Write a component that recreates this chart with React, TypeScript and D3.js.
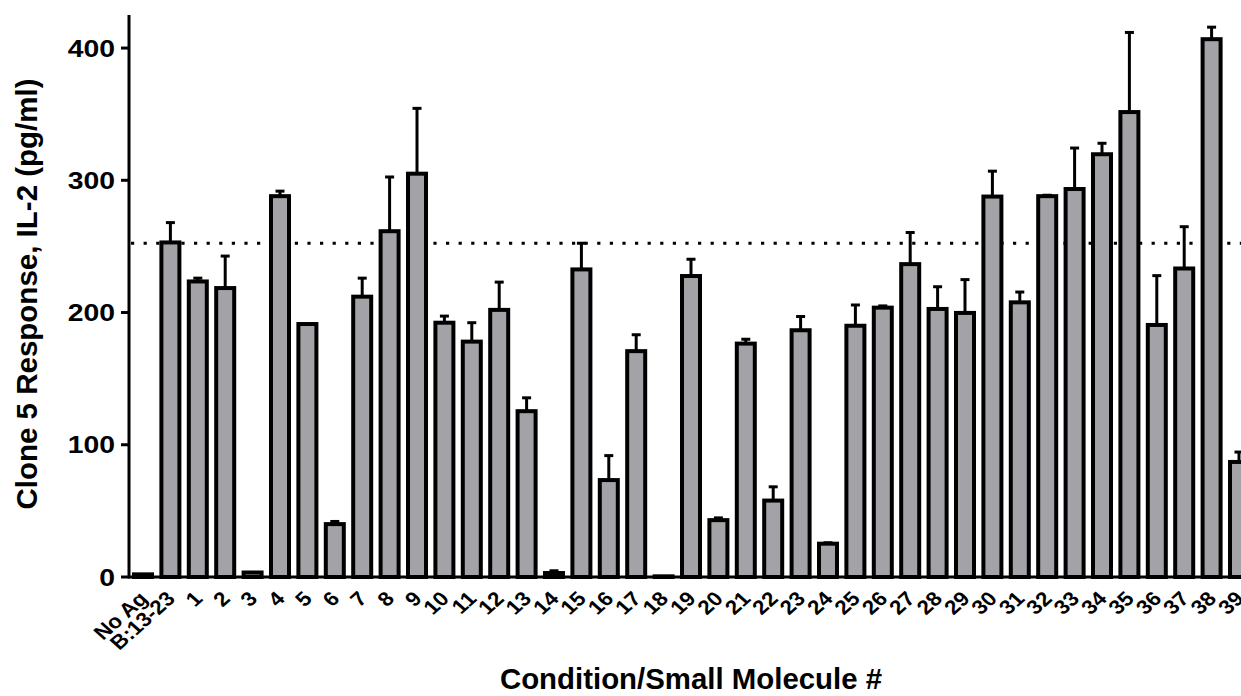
import React from "react";
import * as d3 from "d3";

const categories: string[] = [
  "No Ag", "B:13-23", "1", "2", "3", "4", "5", "6", "7", "8", "9", "10",
  "11", "12", "13", "14", "15", "16", "17", "18", "19", "20", "21", "22",
  "23", "24", "25", "26", "27", "28", "29", "30", "31", "32", "33", "34",
  "35", "36", "37", "38", "39",
];

const means: number[] = [
  2, 253, 223.5, 218.5, 3.4, 288, 191.3, 40, 212, 261.5, 305, 192.3, 178,
  202, 125.4, 3, 232.6, 73.3, 170.8, 0.5, 227.6, 43, 176.5, 57.8, 186.6,
  25.2, 190, 203.7, 236.6, 202.7, 199.7, 287.7, 207.7, 288, 293.4, 319.7,
  351.6, 190.6, 233.3, 406.7, 87,
];

const errors: number[] = [
  0, 15, 2.5, 24.2, 0, 3.8, 0, 2, 14, 41, 49.4, 5, 14.3, 21, 10.1, 1.7,
  19.8, 18.5, 12.4, 0, 12.7, 1.7, 3.3, 10.4, 10.4, 0.7, 15.7, 1.3, 23.9,
  16.8, 25.2, 19.2, 7.8, 0.7, 31, 8.3, 60.2, 37.3, 31.6, 9.1, 7.5,
];

const yTicks: number[] = [0, 100, 200, 300, 400];
const referenceLevel = 252.4;

const W = 1241;
const H = 696;
const FONT = "'Liberation Sans', Arial, Helvetica, sans-serif";

export default function App() {
  const x = d3.scalePoint<string>().domain(categories).range([143, 1239]).padding(0);
  const y = d3.scaleLinear().domain([0, 425]).range([577, 15]);
  const axisX = 129;
  const barW = 18;
  const capW = 9;

  return (
    <svg
      width={W}
      height={H}
      viewBox={`0 0 ${W} ${H}`}
      style={{ position: "absolute", left: 0, top: 0, background: "#fff" }}
    >
      {/* reference dotted line */}
      <line
        x1={131}
        x2={W}
        y1={y(referenceLevel)}
        y2={y(referenceLevel)}
        stroke="#000"
        strokeWidth={3.2}
        strokeDasharray="3.2 9.4"
      />
      {/* error bars */}
      {categories.map((c, i) => {
        const cx = x(c)!;
        if (errors[i] <= 0) return null;
        const top = y(means[i] + errors[i]);
        return (
          <g key={"e" + c}>
            <line x1={cx} x2={cx} y1={y(means[i])} y2={top} stroke="#000" strokeWidth={3} />
            <line x1={cx - capW / 2} x2={cx + capW / 2} y1={top} y2={top} stroke="#000" strokeWidth={3} />
          </g>
        );
      })}
      {/* bars */}
      {categories.map((c, i) => {
        const cx = x(c)!;
        const top = y(means[i]);
        return (
          <rect
            key={"b" + c}
            x={cx - barW / 2}
            y={top}
            width={barW}
            height={Math.max(0, y(0) - top)}
            fill="#a3a2a7"
            stroke="#000"
            strokeWidth={4}
          />
        );
      })}
      {/* axes */}
      <line x1={axisX} x2={W} y1={y(0)} y2={y(0)} stroke="#000" strokeWidth={3} />
      <line x1={axisX} x2={axisX} y1={y(0) + 1.5} y2={y(425)} stroke="#000" strokeWidth={3} />
      {yTicks.map((t) => (
        <g key={"t" + t}>
          <line x1={axisX - 8} x2={axisX} y1={y(t)} y2={y(t)} stroke="#000" strokeWidth={3} />
          <text
            transform={`translate(115 ${y(t)}) scale(1.18 1)`}
            dy="0.36em"
            textAnchor="end"
            fontFamily={FONT}
            fontWeight="bold"
            fontSize={24}
            fill="#000"
          >
            {t}
          </text>
        </g>
      ))}
      {/* x tick labels */}
      {categories.map((c) => {
        const ax = x(c)! + 6;
        const ay = 600;
        return (
          <text
            key={"l" + c}
            transform={`translate(${ax} ${ay}) scale(1.12 1) rotate(-45)`}
            textAnchor="end"
            fontFamily={FONT}
            fontWeight="bold"
            fontSize={20}
            fill="#000"
          >
            {c}
          </text>
        );
      })}
      {/* axis titles */}
      <text
        transform={`translate(37 294) rotate(-90)`}
        textAnchor="middle"
        fontFamily={FONT}
        fontWeight="bold"
        fontSize={29.5}
        fill="#000"
      >
        Clone 5 Response, IL-2 (pg/ml)
      </text>
      <text
        x={691}
        y={689}
        textAnchor="middle"
        fontFamily={FONT}
        fontWeight="bold"
        fontSize={29.4}
        fill="#000"
      >
        Condition/Small Molecule #
      </text>
    </svg>
  );
}
